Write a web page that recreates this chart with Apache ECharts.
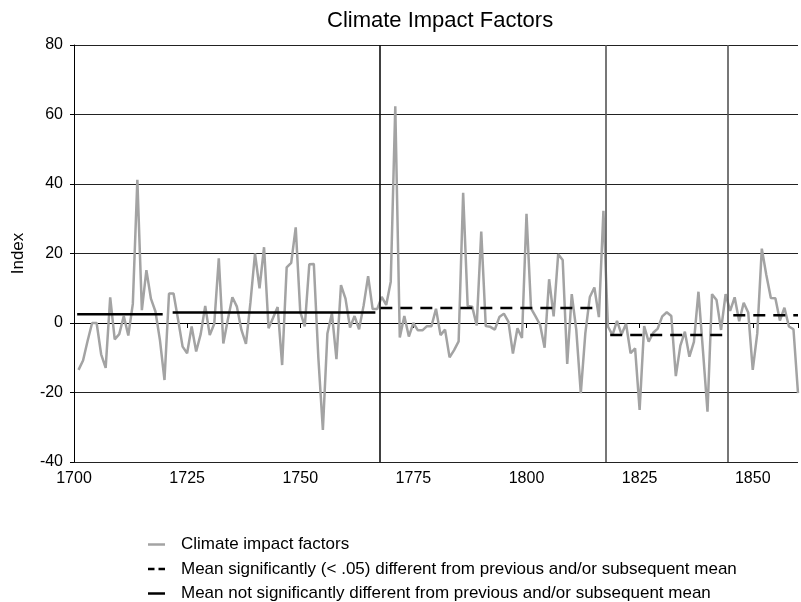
<!DOCTYPE html>
<html>
<head>
<meta charset="utf-8">
<script src="https://cdn.jsdelivr.net/npm/echarts@6/dist/echarts.min.js"></script>
<style>html,body{margin:0;padding:0;background:#fff}#c{width:801px;height:602px}</style>
</head>
<body>
<div id="c"></div>
<script>
// ---- data ----
const years = [];
for (let y = 1701; y <= 1860; y++) years.push(y);
const climateValues = [
  -13.5,-10.8,-5.2,0,0,-9,-12.9,7.4,-4.7,-3.2,            // 1701-1710
  2,-3.6,5.5,41.2,3.7,15.2,7,3.3,-5,-16.4,               // 1711-1720
  8.5,8.5,1,-6.8,-8.7,-1,-8.2,-3.2,4.9,-3.5,             // 1721-1730
  -0.2,18.6,-5.9,1,7.4,4.7,-2,-6,6,20,                   // 1731-1740
  10,21.8,-1.5,1.5,4.6,-12.1,16,17.3,27.5,3.2,           // 1741-1750
  -1,16.9,17,-10,-30.8,-3,2.8,-10.4,10.9,7,              // 1751-1760
  -1.3,2,-1.8,5,13.5,4,4,7.5,5.2,11.9,                   // 1761-1770
  62.4,-4.2,2,-3.9,0,-2.1,-2.1,-0.9,-0.9,4.1,            // 1771-1780
  -3.5,-1.9,-9.9,-7.8,-5.3,37.5,4.9,4.7,-0.7,26.3,       // 1781-1790
  -0.9,-1.1,-1.9,1.7,2.7,0.4,-8.8,-1.5,-4.3,31.4,        // 1791-1800
  4.2,1.9,-0.5,-7.1,12.6,1.9,19.8,18.1,-11.8,8.3,        // 1801-1810
  -2,-20.2,-3,7.5,10.2,1.7,32.3,-1,-3.5,0.6,             // 1811-1820
  -3.3,-0.2,-8.7,-7.3,-25,-0.9,-5.4,-2.8,-1.6,1.9,       // 1821-1830
  3.1,2,-15.3,-6.5,-2.5,-9.7,-5.4,9,-8,-25.5,            // 1831-1840
  8.3,6.6,-2,8.3,3.5,7.4,0.5,5.8,3,-13.5,                // 1841-1850
  -3,21.4,13.8,7.2,7.1,0.7,4.4,-1,-1.8,-20.2             // 1851-1860
];
// period means: not significant (solid)
const solidStart = [1700.7, 1721.8];
const solidEnd   = [1719.6, 1766.6];
const solidMean  = [2.5, 3.0];
// period means: significant (dashed)
const dashStart = [1767.7, 1818.5, 1845.7];
const dashEnd   = [1815.7, 1843.5, 1860];
const dashMean  = [4.3, -3.45, 2.2];
// period breaks
const breakYears = [1767.5, 1817.6, 1844.5];
const yTicks = [-40, -20, 0, 20, 40, 60, 80];
const xTicks = [1700, 1725, 1750, 1775, 1800, 1825, 1850];

const seriesNames = [
  'Climate impact factors',
  'Mean significantly (< .05) different from previous and/or subsequent mean',
  'Mean not significantly different from previous and/or subsequent mean'
];

function segs(s, e, v) {
  const out = [];
  for (let i = 0; i < s.length; i++) {
    if (i > 0) out.push(['-', '-']);
    out.push([s[i], v[i]]);
    out.push([e[i], v[i]]);
  }
  return out;
}

const font = 'Liberation Sans, Arial, sans-serif';
const iconSolid = 'path://M0,0H17V2.5H0Z';
const iconDash = 'path://M0,0H6.5V2.5H0Z M10.5,0H17V2.5H10.5Z';
const chart = echarts.init(document.getElementById('c'), null, {renderer: 'canvas'});
chart.setOption({
  animation: false,
  backgroundColor: '#fff',
  textStyle: {fontFamily: font},
  title: {
    text: 'Climate Impact Factors',
    left: 322, top: 5,
    textStyle: {fontFamily: font, fontSize: 22, fontWeight: 'normal', color: '#000'}
  },
  grid: {left: 74, top: 45, width: 727.5, height: 417, containLabel: false},
  legend: {
    orient: 'vertical', left: 143, top: 531, height: 80, itemGap: 7.5,
    itemWidth: 17, itemHeight: 17, symbolKeepAspect: true,
    textStyle: {fontFamily: font, fontSize: 17, color: '#000', padding: [0,0,0,11]},
    itemStyle: {borderWidth: 0},
    data: [
      {name: seriesNames[0], icon: iconSolid},
      {name: seriesNames[1], icon: iconDash},
      {name: seriesNames[2], icon: iconSolid}
    ]
  },
  xAxis: {
    type: 'value', min: xTicks[0], max: 1860, interval: 25,
    axisLine: {lineStyle: {color: '#000', width: 1}},
    axisTick: {show: true, length: 5, lineStyle: {color: '#000'}},
    axisLabel: {fontFamily: font, fontSize: 16, color: '#000', margin: 9,
      formatter: v => xTicks.includes(v) ? String(v) : ''},
    splitLine: {show: false}
  },
  yAxis: {
    type: 'value', min: yTicks[0], max: yTicks[yTicks.length-1], interval: 20,
    name: 'Index', nameLocation: 'middle', nameGap: 47,
    nameTextStyle: {fontFamily: font, fontSize: 17, color: '#000'},
    axisLine: {show: true, lineStyle: {color: '#000', width: 1}},
    axisTick: {show: true, length: 4, lineStyle: {color: '#000'}},
    axisLabel: {fontFamily: font, fontSize: 16, color: '#000', margin: 11},
    splitLine: {show: true, lineStyle: {color: '#222', width: 1}}
  },
  series: [
    {
      name: seriesNames[0], type: 'line', symbol: 'none',
      data: years.map((y, i) => [y, climateValues[i]]),
      lineStyle: {color: '#a3a3a3', width: 2.5},
      itemStyle: {color: '#a3a3a3'},
      z: 3,
      markLine: {
        silent: true, symbol: 'none', label: {show: false},
        data: breakYears.map((b, i) => ({
          xAxis: b,
          lineStyle: {color: i === 0 ? '#111' : '#555', width: 1.6, type: 'solid'}
        }))
      }
    },
    {
      name: seriesNames[1], type: 'line', symbol: 'none',
      data: segs(dashStart, dashEnd, dashMean),
      connectNulls: false,
      lineStyle: {color: '#000', width: 2.5, type: [12, 8]},
      itemStyle: {color: '#000'},
      z: 4
    },
    {
      name: seriesNames[2], type: 'line', symbol: 'none',
      data: segs(solidStart, solidEnd, solidMean),
      connectNulls: false,
      lineStyle: {color: '#000', width: 2.5},
      itemStyle: {color: '#000'},
      z: 4
    }
  ]
});
</script>
</body>
</html>
